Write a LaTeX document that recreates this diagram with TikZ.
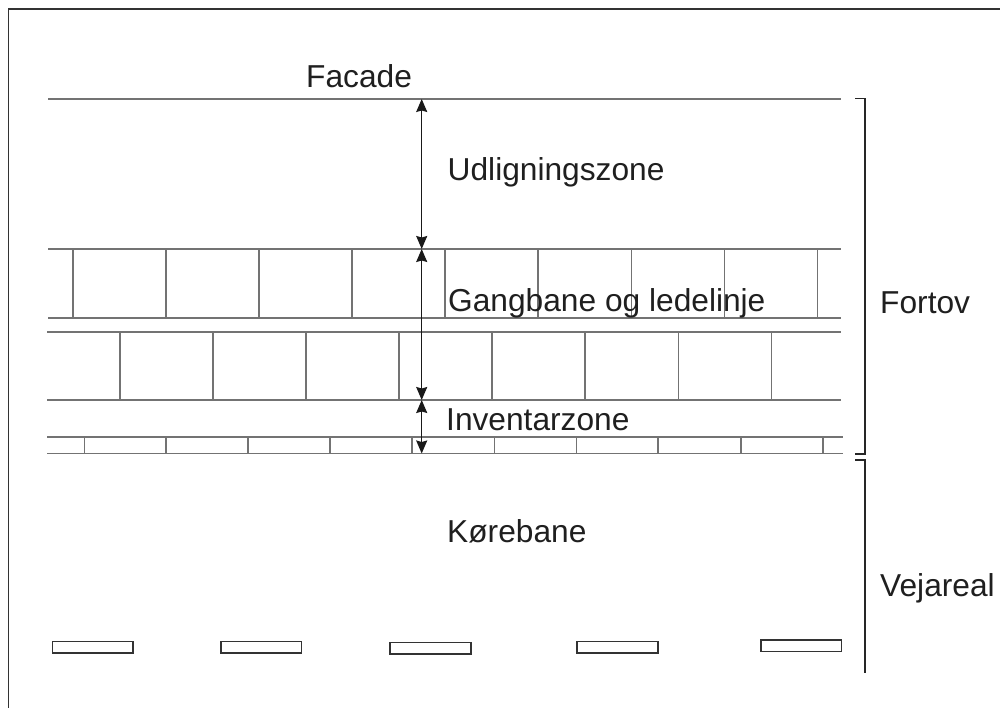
\documentclass[tikz,border=0pt]{standalone}
\usepackage{fontspec}
\setmainfont{Liberation Sans}
\usetikzlibrary{arrows.meta}
\begin{document}
\begin{tikzpicture}[x=1pt,y=-1pt,
  pave/.style={draw=black!55, line width=1.6pt},
  dimarrow/.style={draw=black!90, line width=1.4pt, {Stealth[length=13pt,width=11pt,inset=1.5pt]}-{Stealth[length=13pt,width=11pt,inset=1.5pt]}},
  bracket/.style={draw=black!85, line width=1.4pt},
  lanemark/.style={draw=black!80, line width=1.2pt},
  lbl/.style={anchor=base west, inner sep=0pt, font=\fontsize{31.7}{38}\selectfont, text=black!88}]
\useasboundingbox (0,0) rectangle (1000,708);
% frame
\draw[draw=black!80, line width=1.6pt] (8.5,708) -- (8.5,9) -- (1000,9);
% horizontal lines
\draw[pave] (48,99) -- (841,99);
\draw[pave] (48,249) -- (841,249);
\draw[pave] (48,318) -- (841,318);
\draw[pave] (47,332) -- (841,332);
\draw[pave] (47,400) -- (841,400);
\draw[pave] (47,437) -- (843,437);
\draw[pave] (47,453.5) -- (843,453.5);
% paving joints
\foreach \x in {72.7,165.8,258.9,352,445.1,538.2,631.3,724.4,817.5}
  \draw[pave] (\x,249) -- (\x,318);
\foreach \x in {119.7,212.8,305.9,399,492.1,585.2,678.3,771.4}
  \draw[pave] (\x,332) -- (\x,400);
\foreach \x in {84.3,165.7,247.7,329.7,412,494.3,576.3,658,740.7,823}
  \draw[pave] (\x,437) -- (\x,453.5);
% lane markings
\draw[lanemark] (52.5,641.5) rectangle (133,653);
\draw[lanemark] (221,641.5) rectangle (301.5,653);
\draw[lanemark] (390,642.5) rectangle (471,654);
\draw[lanemark] (577,641.5) rectangle (658,653);
\draw[lanemark] (761,640) rectangle (841.5,651.5);
% dimension arrows
\coordinate (facadeline) at (421.7,99);
\coordinate (gangtop) at (421.7,249);
\coordinate (gangbot) at (421.7,400);
\coordinate (curbbot) at (421.7,453.5);
\draw[dimarrow] (facadeline) -- (gangtop);
\draw[dimarrow] (gangtop) -- (gangbot);
\draw[dimarrow] (gangbot) -- (curbbot);
% brackets
\draw[bracket] (855,98.5) -- (865,98.5) -- (865,454) -- (855,454);
\draw[bracket] (855,460) -- (865,460) -- (865,672.5);
% labels
\node[lbl] (facade) at (306,88) {Facade};
\node[lbl] (udl) at (447.5,181) {Udligningszone};
\node[lbl] (gang) at (448,311) {Gangbane og ledelinje};
\node[lbl] (inv) at (446,430.7) {Inventarzone};
\node[lbl] (kore) at (447,542) {Kørebane};
\node[lbl] (fortov) at (880,313) {Fortov};
\node[lbl] (vej) at (880,596) {Vejareal};
\end{tikzpicture}
\end{document}
